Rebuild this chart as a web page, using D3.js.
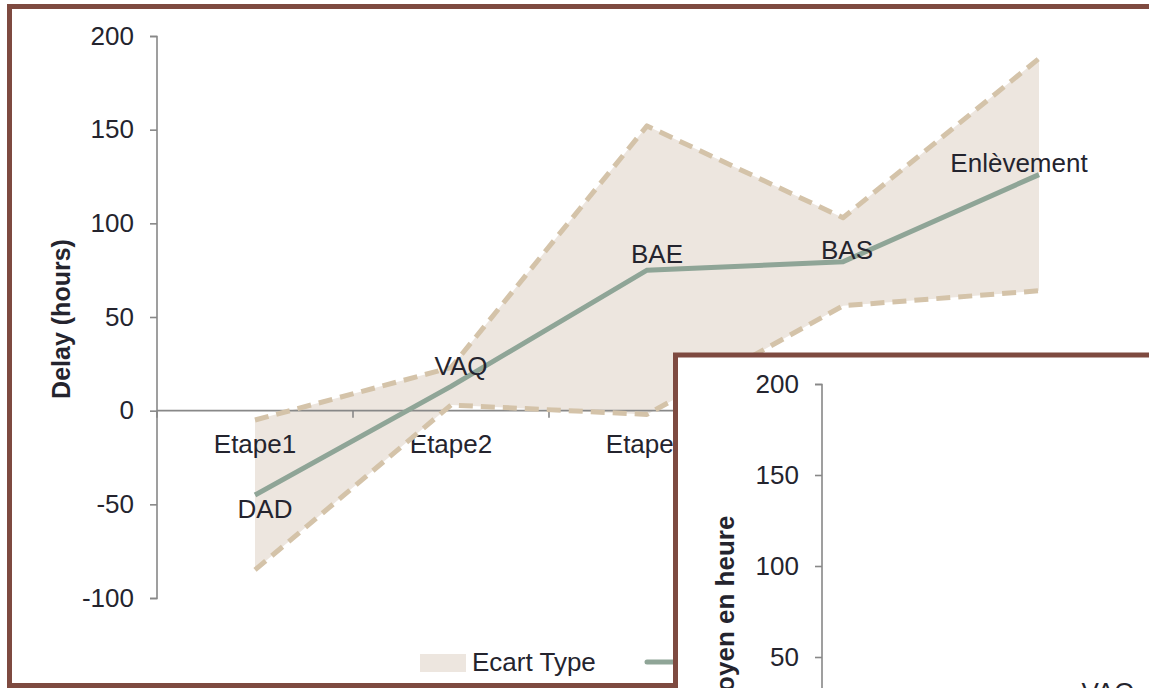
<!DOCTYPE html>
<html>
<head>
<meta charset="utf-8">
<script src="https://cdn.jsdelivr.net/npm/d3@7"></script>
<style>
  html, body { margin: 0; padding: 0; background: #ffffff; overflow: hidden; }
  svg { display: block; font-family: "Liberation Sans", Arial, sans-serif; }
</style>
</head>
<body>
<svg id="chart" width="1149" height="688"></svg>
<script>
// Stages and point labels
const categories = ["Etape1", "Etape2", "Etape3", "Etape4", "Etape5"];
const pointLabels = ["DAD", "VAQ", "BAE", "BAS", "Enlèvement"];
// Mean delay (hours) and standard deviation per stage
const meanValues = [-45, 13, 75, 79.5, 126];
const stdValues = [40, 10, 77, 23.5, 62];
// Axis ticks
const yTicks = [-100, -50, 0, 50, 100, 150, 200];
const insetTicks = [0, 50, 100, 150, 200];
// Second (French) panel: visible label
const insetLabelCats = ["Etape2"];
const insetLabelTexts = ["VAQ"];
const insetLabelValues = [22];

const C = {
  frame: "#7e4a40",
  axis: "#888888",
  text: "#24242e",
  band: "#ede6df",
  dash: "#d4c3a9",
  mean: "#8fa597"
};
const FS = 26;

const svg = d3.select("#chart");

// ---------- main panel ----------
svg.append("rect")
  .attr("x", 9.5).attr("y", 6.5).attr("width", 1200).attr("height", 679)
  .attr("fill", "#ffffff").attr("stroke", C.frame).attr("stroke-width", 5);

const x = d3.scaleBand().domain(categories).range([157, 1137]).padding(0);
const y = d3.scaleLinear().domain([-100, 200]).range([598, 36]);
const cx = c => x(c) + x.bandwidth() / 2;

const upper = meanValues.map((m, i) => m + stdValues[i]);
const lower = meanValues.map((m, i) => m - stdValues[i]);

// standard deviation band
const area = d3.area()
  .x((d, i) => cx(categories[i]))
  .y0((d, i) => y(lower[i]))
  .y1((d, i) => y(upper[i]));
svg.append("path").datum(meanValues)
  .attr("d", area).attr("fill", C.band);

// y axis
const yAxis = d3.axisLeft(y).tickValues(yTicks).tickFormat(d => String(d))
  .tickSize(7).tickPadding(16);
const gy = svg.append("g").attr("transform", "translate(157,0)").call(yAxis);
gy.select(".domain").attr("stroke", C.axis).attr("stroke-width", 1.6).attr("d", "M-7,36.5H0V598.5H-7");
gy.selectAll(".tick line").attr("stroke", C.axis).attr("stroke-width", 1.6);
gy.selectAll(".tick text").attr("fill", C.text).attr("font-size", FS)
  .attr("font-family", "Liberation Sans, Arial, sans-serif");

// x axis along zero
const gx = svg.append("g").attr("transform", `translate(0,${y(0)})`);
gx.append("line").attr("x1", 157).attr("x2", 1137)
  .attr("stroke", C.axis).attr("stroke-width", 1.6);
const bounds = categories.map(c => x(c)).concat([x.range()[1]]);
gx.selectAll("line.tk").data(bounds).join("line").attr("class", "tk")
  .attr("x1", d => d).attr("x2", d => d).attr("y1", 0).attr("y2", 7)
  .attr("stroke", C.axis).attr("stroke-width", 1.6);
gx.selectAll("text").data(categories).join("text")
  .attr("x", d => cx(d)).attr("y", 42)
  .attr("text-anchor", "middle").attr("fill", C.text).attr("font-size", FS)
  .text(d => d);

// dashed bounds
const line = d3.line().x((d, i) => cx(categories[i])).y(d => y(d));
[upper, lower].forEach(arr => {
  svg.append("path").datum(arr).attr("d", line)
    .attr("fill", "none").attr("stroke", C.dash).attr("stroke-width", 5)
    .attr("stroke-dasharray", "14,8").attr("stroke-linejoin", "round");
});

// mean line
svg.append("path").datum(meanValues).attr("d", line)
  .attr("fill", "none").attr("stroke", C.mean).attr("stroke-width", 5)
  .attr("stroke-linejoin", "miter");

// point labels
const labelPlacement = [
  { dx: 10, dy: 23 },
  { dx: 10, dy: -11 },
  { dx: 10, dy: -7 },
  { dx: 4, dy: -3 },
  { dx: -20, dy: -3 }
];
svg.append("g").selectAll("text").data(pointLabels).join("text")
  .attr("x", (d, i) => cx(categories[i]) + labelPlacement[i].dx)
  .attr("y", (d, i) => y(meanValues[i]) + labelPlacement[i].dy)
  .attr("text-anchor", "middle").attr("fill", C.text).attr("font-size", FS)
  .text(d => d);

// y title
svg.append("text")
  .attr("transform", "translate(70,319) rotate(-90)")
  .attr("text-anchor", "middle").attr("fill", C.text)
  .attr("font-size", 25).attr("font-weight", "bold")
  .text("Delay (hours)");

// legend
const lg = svg.append("g");
lg.append("rect").attr("x", 420).attr("y", 654).attr("width", 46).attr("height", 18).attr("fill", C.band);
lg.append("text").attr("x", 472).attr("y", 671).attr("fill", C.text).attr("font-size", FS).text("Ecart Type");
lg.append("line").attr("x1", 647).attr("x2", 700).attr("y1", 662).attr("y2", 662)
  .attr("stroke", C.mean).attr("stroke-width", 5).attr("stroke-linecap", "round");

// ---------- second panel (French version) ----------
const inset = svg.append("g");
inset.append("rect")
  .attr("x", 675.5).attr("y", 355).attr("width", 600).attr("height", 500)
  .attr("fill", "#ffffff").attr("stroke", C.frame).attr("stroke-width", 5);

const iy = d3.scaleLinear().domain([0, 200]).range([748, 384]);
const ix = d3.scaleBand().domain(categories).range([822, 1742]).padding(0);

const iAxis = d3.axisLeft(iy).tickValues(insetTicks).tickFormat(d => String(d))
  .tickSize(7).tickPadding(16);
const giy = inset.append("g").attr("transform", "translate(822,0)").call(iAxis);
giy.select(".domain").attr("stroke", C.axis).attr("stroke-width", 1.6).attr("d", "M-7,384.5H0V930");
giy.selectAll(".tick line").attr("stroke", C.axis).attr("stroke-width", 1.6);
giy.selectAll(".tick text").attr("fill", C.text).attr("font-size", 26)
  .attr("font-family", "Liberation Sans, Arial, sans-serif");

inset.append("text")
  .attr("transform", "translate(734,650) rotate(-90)")
  .attr("text-anchor", "middle").attr("fill", C.text)
  .attr("font-size", 26).attr("font-weight", "bold")
  .text("Délai moyen en heure");

inset.selectAll("text.il").data(insetLabelTexts).join("text").attr("class", "il")
  .attr("x", (d, i) => ix(insetLabelCats[i]) + ix.bandwidth() / 2 + 10)
  .attr("y", (d, i) => iy(insetLabelValues[i]) - 7)
  .attr("text-anchor", "middle").attr("fill", C.text).attr("font-size", 26)
  .text(d => d);
</script>
</body>
</html>
